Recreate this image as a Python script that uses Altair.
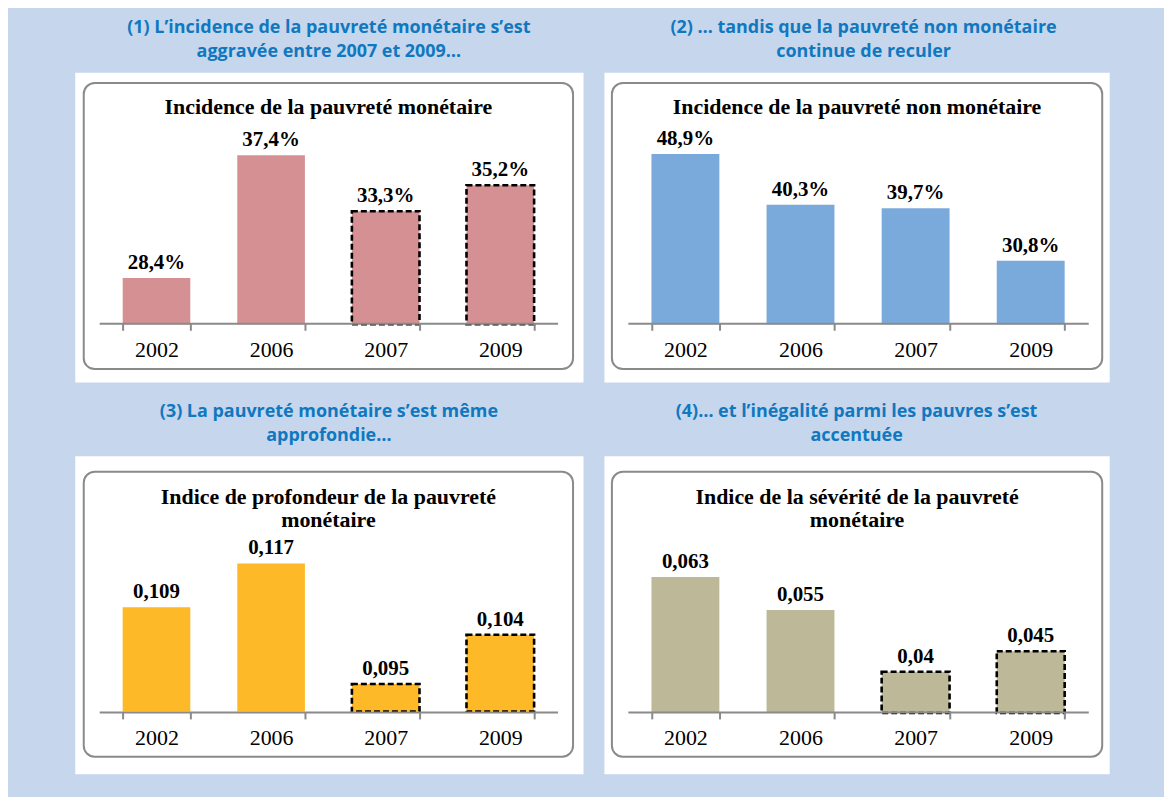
import altair as alt
import pandas as pd

years = ["2002", "2006", "2007", "2009"]
incidence_mon = [28.4, 37.4, 33.3, 35.2]
incidence_non_mon = [48.9, 40.3, 39.7, 30.8]
profondeur = [0.109, 0.117, 0.095, 0.104]
severite = [0.063, 0.055, 0.04, 0.045]
dashed_years = ["2007", "2009"]

section_titles = [
    ["(1) L\u2019incidence de la pauvreté monétaire s\u2019est", "aggravée entre 2007 et 2009\u2026"],
    ["(2) \u2026 tandis que la pauvreté non monétaire", "continue de reculer"],
    ["(3) La pauvreté monétaire s\u2019est même", "approfondie\u2026"],
    ["(4)\u2026 et l\u2019inégalité parmi les pauvres s\u2019est", "accentuée"],
]
chart_titles = [
    "Incidence de la pauvreté monétaire",
    "Incidence de la pauvreté non monétaire",
    "Indice de profondeur de la pauvreté\nmonétaire",
    "Indice de la sévérité de la pauvreté\nmonétaire",
]

BLUE_BG = "#c6d6ec"
TITLE_BLUE = "#0f78c0"
GRAY = "#8a8a8a"
SERIF = "Liberation Serif"


def fmt_pct(v):
    return f"{v:.1f}%".replace(".", ",")


def fmt_idx(v):
    return repr(v).replace(".", ",")


def panel(values, labels, colour, use_dash, domain, yrange, xrange, width, height,
          box, axis_y, title_lines, ctitle, ctitle_y, title_dx):
    df = pd.DataFrame({
        "year": years,
        "value": values,
        "label": labels,
        "dashed": [y in dashed_years for y in years],
    })
    x = alt.X(
        "year:N", sort=years,
        scale=alt.Scale(range=xrange, paddingInner=0.41, paddingOuter=0.205),
        axis=alt.Axis(
            title=None, offset=-(height - axis_y), tickBand="extent", zindex=1,
            domainColor=GRAY, domainWidth=2, tickColor=GRAY, tickWidth=2, tickSize=7,
            labelFont=SERIF, labelFontSize=22, labelColor="black", labelAngle=0,
            labelPadding=9, grid=False,
        ),
    )
    y = alt.Y("value:Q", scale=alt.Scale(domain=domain, range=yrange, zero=False), axis=None)
    base = alt.Chart(df).encode(x=x, y=y, y2=alt.datum(domain[0]))

    frame = alt.Chart(pd.DataFrame({"k": [0]})).mark_rect(
        fill="white", stroke=GRAY, strokeWidth=2, cornerRadius=11
    ).encode(
        x=alt.value(box[0]), x2=alt.value(box[1]), y=alt.value(box[2]), y2=alt.value(box[3])
    )
    bars = base.mark_bar(color=colour)
    layers = [frame, bars]
    if use_dash:
        dash = base.transform_filter(alt.datum.dashed == True).mark_bar(
            fillOpacity=0, stroke="black", strokeWidth=2.6, strokeDash=[6, 3]
        )
        layers.append(dash)
    text = alt.Chart(df).mark_text(
        font=SERIF, fontWeight="bold", fontSize=21, baseline="alphabetic", dy=-9, color="black"
    ).encode(x=x, y=y, text="label:N")
    layers.append(text)
    ct = alt.Chart(pd.DataFrame({"t": [ctitle]})).mark_text(
        font=SERIF, fontWeight="bold", fontSize=22, baseline="middle", align="center",
        lineBreak="\n", lineHeight=23, color="black"
    ).encode(x=alt.value((box[0] + box[1]) / 2), y=alt.value(ctitle_y), text="t:N")
    layers.append(ct)
    return alt.layer(*layers).properties(
        width=width, height=height,
        title=alt.TitleParams(
            text=title_lines, font="Open Sans", fontSize=18, fontWeight="bold",
            color=TITLE_BLUE, anchor="middle", lineHeight=24, offset=11, dx=title_dx,
        ),
    )


p1 = panel(incidence_mon, [fmt_pct(v) for v in incidence_mon], "#d49092", True,
           [25, 40], [253, 253 - 15 * 13.67], [24.5, 484.5], 510, 311,
           (9, 500, 11, 298), 252, section_titles[0], chart_titles[0], 35, 0)
p2 = panel(incidence_non_mon, [fmt_pct(v) for v in incidence_non_mon], "#7aaadc", False,
           [20, 50], [253, 253 - 30 * 5.91], [24, 486], 507, 311,
           (8, 500, 11, 298), 252, section_titles[1], chart_titles[1], 35, 7)
p3 = panel(profondeur, [fmt_idx(v) for v in profondeur], "#fdb927", True,
           [0.09, 0.12], [256.5, 256.5 - 0.03 * 5500], [24.5, 484.5], 510, 319,
           (9, 500, 16, 302), 257, section_titles[2], chart_titles[2], 41, 0)
p4 = panel(severite, [fmt_idx(v) for v in severite], "#bdb998", True,
           [0.03, 0.07], [258, 258 - 0.04 * 4130], [24, 486], 507, 319,
           (8, 500, 16, 302), 257, section_titles[3], chart_titles[3], 41, 0)

chart = alt.vconcat(
    alt.hconcat(p1, p2, spacing=19),
    alt.hconcat(p3, p4, spacing=19),
    spacing=19,
).properties(
    background=BLUE_BG,
    padding={"left": 66, "top": 9, "right": 54, "bottom": 23},
).configure_view(fill="white", stroke="transparent")

chart.save("out.html", embed_options={"renderer": "svg", "actions": False})
